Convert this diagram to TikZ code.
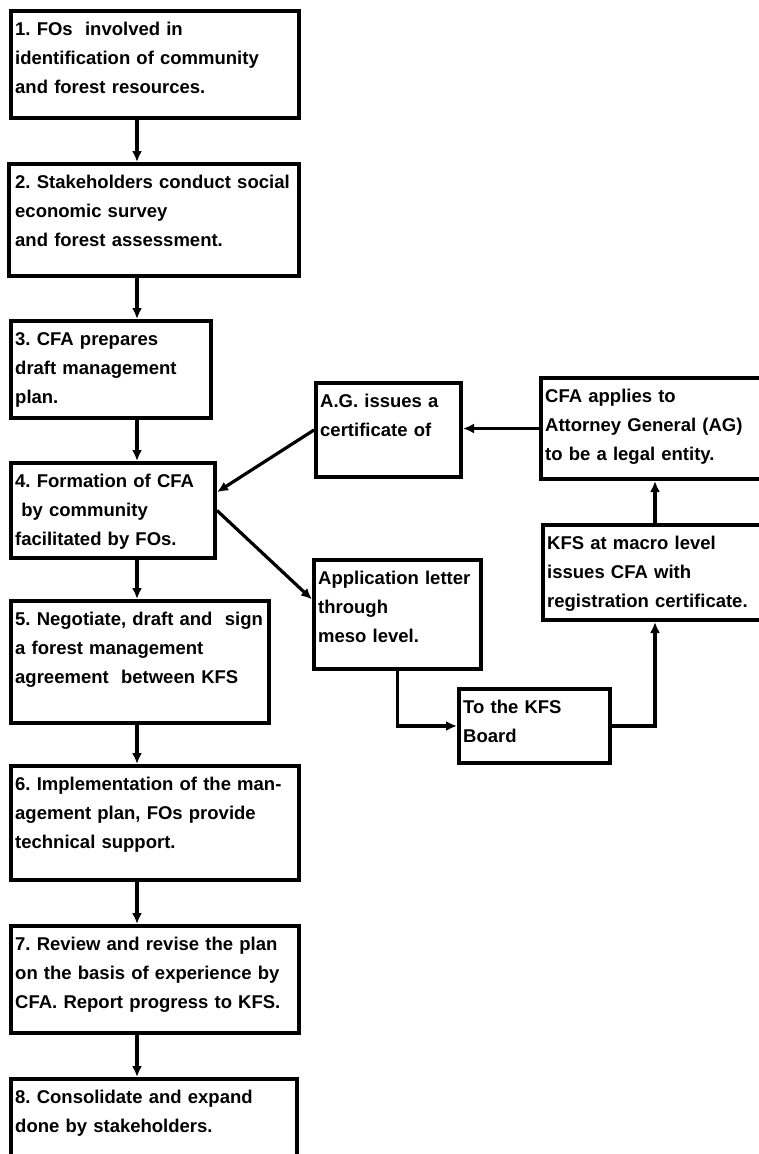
\documentclass[tikz,border=0pt]{standalone}
\usepackage{fontspec}
\setmainfont{Liberation Sans}
\usetikzlibrary{arrows.meta,positioning}
\frenchspacing

\tikzset{
  stepbox/.style={draw, line width=4pt, inner sep=0pt, anchor=north west},
  boxtext/.style={inner sep=3pt, text width=280pt, align=left},
  flow/.style={line width=3.2pt, -{Latex[length=11pt,width=10pt]}},
}

\begin{document}
\begin{tikzpicture}[x=1pt,y=-1pt,font=\fontsize{18.5}{29}\selectfont\bfseries]
\useasboundingbox (0,0) rectangle (758,1154);
% left column, steps 1 to 8
\node[stepbox, minimum width=288pt, minimum height=107pt] (s1) at (9,9) {};
\node[stepbox, minimum width=290pt, minimum height=112pt] (s2) at (7,162) {};
\node[stepbox, minimum width=200pt, minimum height=97pt] (s3) at (9,319) {};
\node[stepbox, minimum width=204pt, minimum height=95pt] (s4) at (9,461) {};
\node[stepbox, minimum width=258pt, minimum height=122pt] (s5) at (9,599) {};
\node[stepbox, minimum width=288pt, minimum height=114pt] (s6) at (9,764) {};
\node[stepbox, minimum width=288pt, minimum height=107pt] (s7) at (9,924) {};
\node[stepbox, minimum width=286pt, minimum height=90pt] (s8) at (9,1077) {};
% right part
\node[stepbox, minimum width=145pt, minimum height=94pt] (ag) at (314,381) {};
\node[stepbox, minimum width=226pt, minimum height=101pt] (apply) at (539,376) {};
\node[stepbox, minimum width=224pt, minimum height=95pt] (macro) at (541,523) {};
\node[stepbox, minimum width=167pt, minimum height=109pt] (letter) at (312,558) {};
\node[stepbox, minimum width=151pt, minimum height=74pt] (board) at (457,687) {};

% texts
\node[boxtext, below right=10pt and 3pt of s1.north west] (t1) {1. FOs ~involved in\\identification of community\\and forest resources.};
\node[boxtext, below right=10pt and 5pt of s2.north west] (t2) {2. Stakeholders conduct social\\economic survey\\and forest assessment.};
\node[boxtext, below right=10pt and 3pt of s3.north west] (t3) {3. CFA prepares\\draft management\\plan.};
\node[boxtext, below right=10pt and 3pt of s4.north west] (t4) {4. Formation of CFA\\\ by community\\facilitated by FOs.};
\node[boxtext, below right=10pt and 3pt of s5.north west] (t5) {5. Negotiate, draft and ~sign\\a forest management\\agreement ~between KFS};
\node[boxtext, below right=10pt and 3pt of s6.north west] (t6) {6. Implementation of the man-\\agement plan, FOs provide\\technical support.};
\node[boxtext, below right=10pt and 3pt of s7.north west] (t7) {7. Review and revise the plan\\on the basis of experience by\\CFA. Report progress to KFS.};
\node[boxtext, below right=10pt and 3pt of s8.north west] (t8) {8. Consolidate and expand\\done by stakeholders.};
\node[boxtext, below right=10pt and 3pt of ag.north west] (tag) {A.G. issues a\\certificate of};
\node[boxtext, below right=10pt and 3pt of apply.north west] (tapply) {CFA applies to\\Attorney General (AG)\\to be a legal entity.};
\node[boxtext, below right=10pt and 3pt of macro.north west] (tmacro) {KFS at macro level\\issues CFA with\\registration certificate.};
\node[boxtext, below right=10pt and 3pt of letter.north west] (tletter) {Application letter\\through\\meso level.};
\node[boxtext, below right=10pt and 3pt of board.north west] (tboard) {To the KFS\\Board};

% connectors
\coordinate (spine) at (137,0);
\foreach \a/\b in {s1/s2,s2/s3,s3/s4,s4/s5,s5/s6,s6/s7,s7/s8}
  \draw[flow] (\a.south -| spine) -- (\b.north -| spine);
\draw[flow] (apply.west) -- (apply.west -| ag.east);
\draw[flow] (ag.west) -- (s4.10);
\draw[flow] (s4.east) -- (letter.170);
\draw[flow] (letter.south) |- (board.west);
\draw[flow] (board.east) -| (macro.south);
\draw[flow] (macro.north) -- (macro.north |- apply.south);
\end{tikzpicture}
\end{document}
